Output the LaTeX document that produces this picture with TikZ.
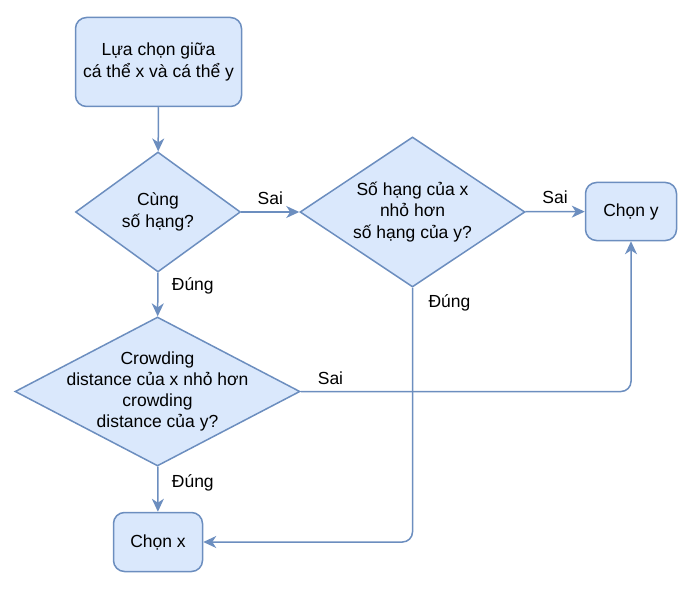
\documentclass[tikz,border=0pt]{standalone}
\usepackage{fontspec}
\setmainfont{Liberation Sans}
\usetikzlibrary{shapes.geometric,arrows.meta}
\definecolor{boxfill}{HTML}{DAE8FC}
\definecolor{boxline}{HTML}{6C8EBF}

\begin{document}
\begin{tikzpicture}[
    x=1pt, y=-1pt,
    every node/.style={font=\fontsize{17.5}{21.3}\selectfont},
    stepbox/.style={rectangle, rounded corners=11pt, draw=boxline, fill=boxfill, line width=1.5pt, align=center},
    decision/.style={diamond, draw=boxline, fill=boxfill, line width=1.5pt, inner sep=0pt},
    link/.style={draw=boxline, line width=1.5pt, -{Stealth[length=13pt,width=12pt,inset=4pt]}}
]
    \useasboundingbox (0,0) rectangle (698,596);

    % Boxes
    \node[stepbox, minimum width=166pt, minimum height=89pt] (start) at (158.5,62) {Lựa chọn giữa\\cá thể x và cá thể y};
    \node[stepbox, minimum width=91pt, minimum height=58pt] (choony) at (631,211.5) {Chọn y};
    \node[stepbox, minimum width=89pt, minimum height=59pt] (chonx) at (158,542) {Chọn x};

    % Decisions
    \node[decision, minimum width=165pt, minimum height=120pt,
          label={[align=center]center:{Cùng\\số hạng?}}] (same) at (158,212) {};
    \node[decision, minimum width=225pt, minimum height=150pt,
          label={[align=center]center:{Số hạng của x\\nhỏ hơn\\số hạng của y?}}] (rank) at (412.5,212) {};
    \node[decision, minimum width=285pt, minimum height=149pt,
          label={[align=center]center:{Crowding\\distance của x nhỏ hơn\\crowding\\distance của y?}}] (crowd) at (157.5,391.5) {};

    % Connectors
    \draw[link] (start) -- (same);
    \draw[link] (same) -- node[above=3pt] {Sai} (rank);
    \draw[link] (rank) -- node[above=4pt] {Sai} (choony);
    \draw[link] (same) -- node[pos=0.3, right=10pt] {Đúng} (crowd);
    \draw[link] (crowd) -- node[pos=0.35, right=10pt] {Đúng} (chonx);
    \draw[link, rounded corners=10pt] (rank.south) |- node[pos=0.03, right=12pt] {Đúng} (chonx.east);
    \draw[link, rounded corners=10pt] (crowd.east) -| node[pos=0.045, above=3pt] {Sai} (choony.south);
\end{tikzpicture}
\end{document}
